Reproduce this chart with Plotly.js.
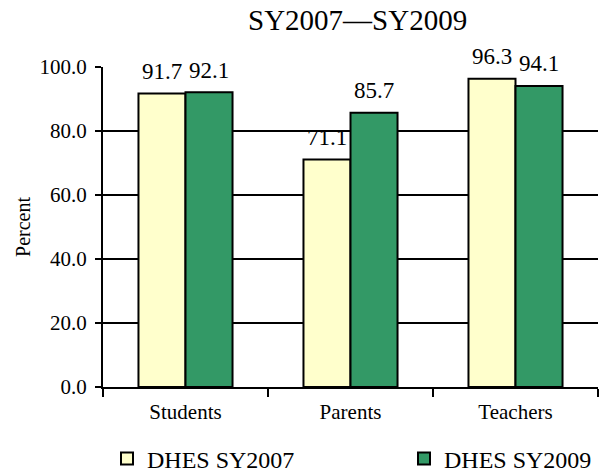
<!DOCTYPE html>
<html>
<head>
<meta charset="utf-8">
<script src="https://cdn.plot.ly/plotly-3.0.1.min.js"></script>
<style>html,body{margin:0;padding:0;background:#fff;}#chart{width:600px;height:472px;}</style>
</head>
<body>
<div id="chart"></div>
<script>
var categories = ["Students", "Parents", "Teachers"];
var seriesNames = ["DHES SY2007", "DHES SY2009"];
var sy2007 = [91.7, 71.1, 96.3];
var sy2009 = [92.1, 85.7, 94.1];
var yTicks = [0, 20, 40, 60, 80, 100];
var chartTitle = "SY2007\u2014SY2009";
var yTitle = "Percent";

var FONT = "Liberation Serif, Times New Roman, serif";

var traces = [
  {type: "bar", name: seriesNames[0], x: categories, y: sy2007, legend: "legend",
   marker: {color: "#FFFFCC", line: {color: "#000", width: 2}}, hoverinfo: "none"},
  {type: "bar", name: seriesNames[1], x: categories, y: sy2009, legend: "legend2",
   marker: {color: "#339966", line: {color: "#000", width: 2}}, hoverinfo: "none"}
];

var annotations = [];
var seriesVals = [sy2007, sy2009];
for (var s = 0; s < 2; s++) {
  for (var i = 0; i < categories.length; i++) {
    annotations.push({
      x: categories[i], y: seriesVals[s][i], xref: "x", yref: "y",
      text: seriesVals[s][i].toFixed(1), showarrow: false,
      xshift: s === 0 ? -23.5 : 23.5, yshift: 22, yanchor: "middle",
      font: {family: FONT, size: 23, color: "#000"}
    });
  }
}

var legendFont = {family: FONT, size: 24, color: "#000"};

var layout = {
  width: 600, height: 472,
  margin: {l: 103, r: 2, t: 67, b: 85},
  paper_bgcolor: "#fff", plot_bgcolor: "#fff",
  font: {family: FONT, color: "#000"},
  title: {text: chartTitle, font: {family: FONT, size: 29, color: "#000"},
          x: 0.596, xanchor: "center", y: 0.958, yanchor: "middle"},
  barmode: "group", bargap: 0.43, bargroupgap: 0,
  showlegend: true,
  annotations: annotations,
  legend: {orientation: "h", xref: "container", yref: "container",
           x: 107 / 600, xanchor: "left", y: 13 / 472, yanchor: "middle",
           font: legendFont, bgcolor: "rgba(0,0,0,0)"},
  legend2: {orientation: "h", xref: "container", yref: "container",
            x: 404 / 600, xanchor: "left", y: 13 / 472, yanchor: "middle",
            font: legendFont, bgcolor: "rgba(0,0,0,0)"},
  xaxis: {type: "category", showline: true, linecolor: "#000", linewidth: 2,
          ticks: "outside", tickson: "boundaries", ticklen: 8, tickwidth: 2, tickcolor: "#000",
          tickfont: {family: FONT, size: 21, color: "#000"}, showgrid: false, zeroline: false,
          ticklabelstandoff: 5, fixedrange: true},
  yaxis: {range: [0, 100], tickvals: yTicks, tickformat: ".1f",
          showline: true, linecolor: "#000", linewidth: 2,
          ticks: "outside", ticklen: 6, tickwidth: 2, tickcolor: "#000",
          showgrid: true, gridcolor: "#000", gridwidth: 2, zeroline: false,
          ticklabelstandoff: 4,
          tickfont: {family: FONT, size: 21, color: "#000"},
          title: {text: yTitle, font: {family: FONT, size: 20, color: "#000"}, standoff: 4},
          fixedrange: true}
};

Plotly.newPlot("chart", traces, layout, {displayModeBar: false, staticPlot: true});
</script>
</body>
</html>
